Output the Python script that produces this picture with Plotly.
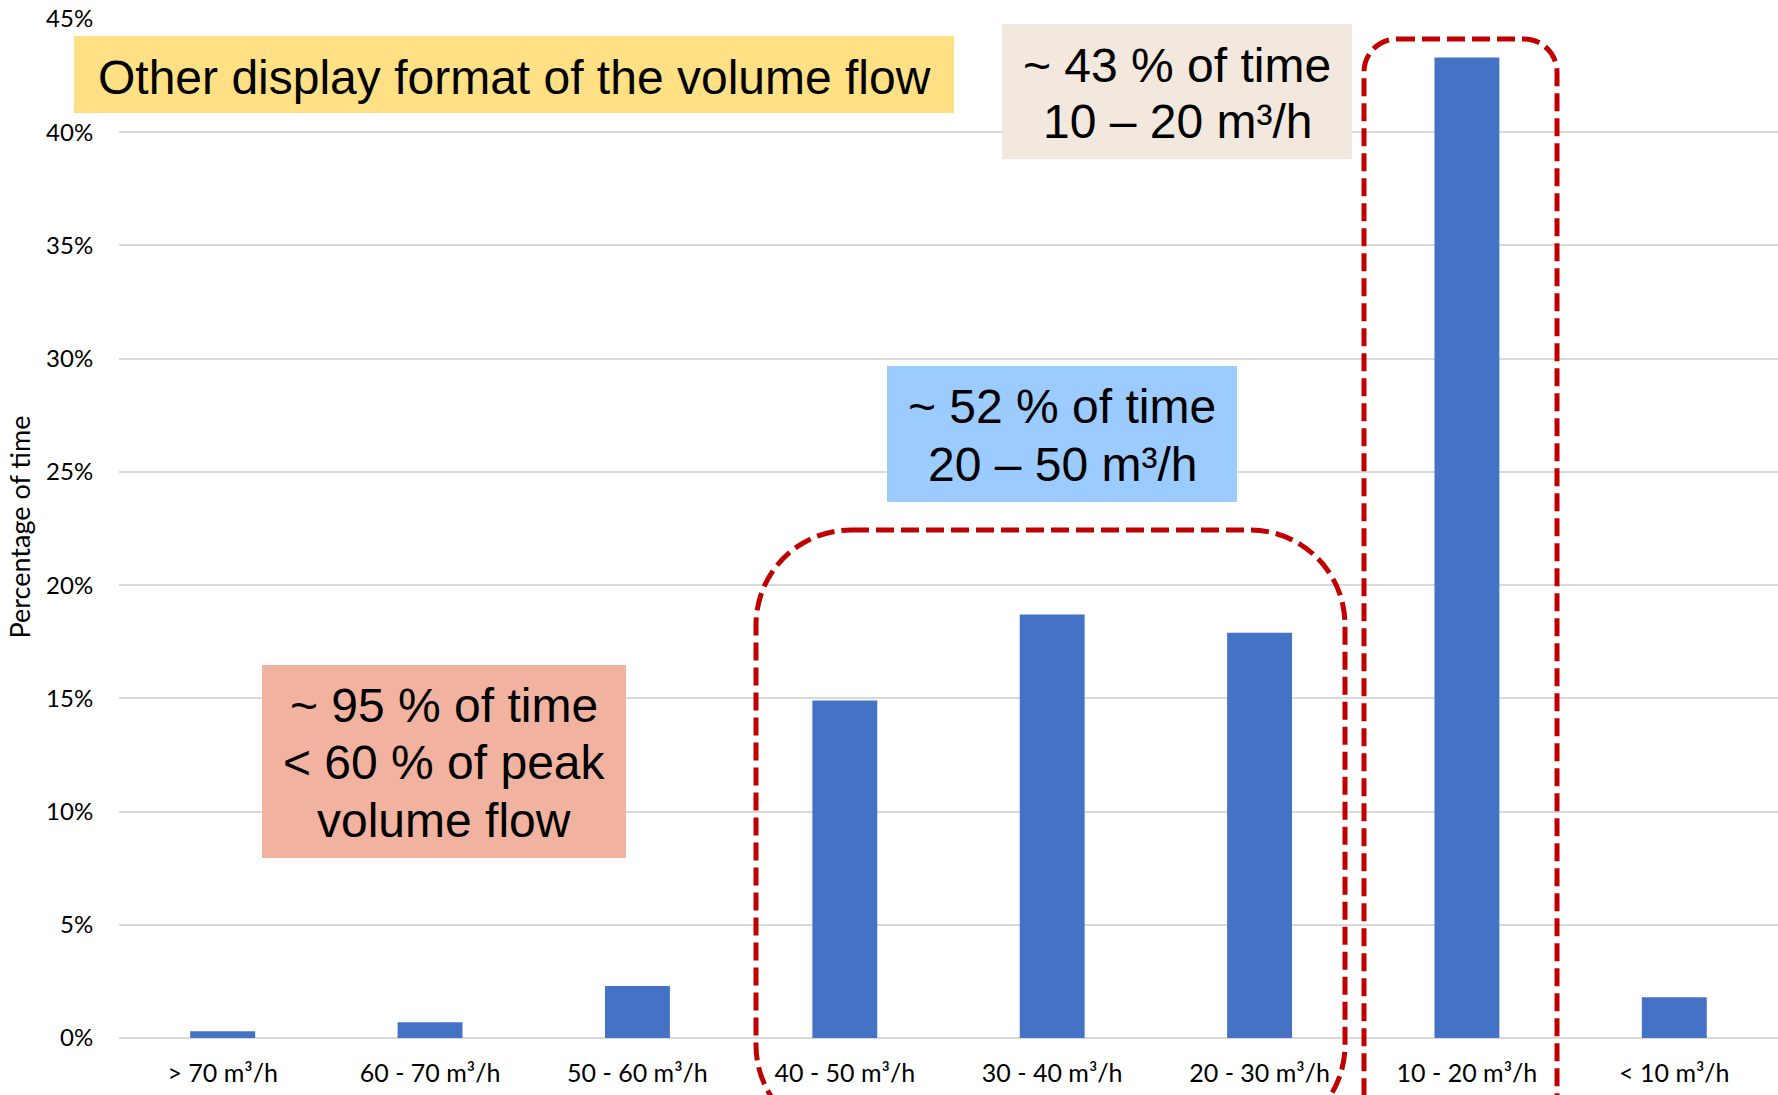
import plotly.graph_objects as go

# ---------------- data ----------------
categories = ["> 70 m³/h", "60 - 70 m³/h", "50 - 60 m³/h", "40 - 50 m³/h",
              "30 - 40 m³/h", "20 - 30 m³/h", "10 - 20 m³/h", "< 10 m³/h"]
share_pct = [0.3, 0.7, 2.3, 14.9, 18.7, 17.9, 43.3, 1.8]
y_tick_values = [0, 5, 10, 15, 20, 25, 30, 35, 40, 45]
y_tick_labels = ["0%", "5%", "10%", "15%", "20%", "25%", "30%", "35%", "40%", "45%"]
y_title = "Percentage of time"

title_lines = ["Other display format of the volume flow"]
box43_lines = ["~ 43 % of time", "10 – 20 m³/h"]
box52_lines = ["~ 52 % of time", "20 – 50 m³/h"]
box95_lines = ["~ 95 % of time", "< 60 % of peak", "volume flow"]

# ---------------- layout geometry (pixels) ----------------
W, H = 1778, 1095
L, R, T, B = 119, 0, 19, 57
PW, PH = W - L - R, H - T - B


def fx(x):
    return (x - L) / PW


def fy(y):
    return (H - B - y) / PH


boxes = [
    # (x0, y0, x1, y1, fill, lines, line centers y, text center x)
    (74, 36, 954, 113, "#FFE085", title_lines, [77], 514),
    (1002, 24, 1352, 159, "#F3E8DD", box43_lines, [65, 121.5], 1177),
    (887, 366, 1237, 502, "#9CCBFF", box52_lines, [406.5, 464.5], 1062),
    (262, 665, 626, 858, "#F2B2A0", box95_lines, [705, 762.5, 820], 444),
]


def rounded_path(x0, y0, x1, y1, r):
    k = 0.5523 * r
    pts = [
        ("M", [(x0 + r, y0)]),
        ("L", [(x1 - r, y0)]),
        ("C", [(x1 - r + k, y0), (x1, y0 + r - k), (x1, y0 + r)]),
        ("L", [(x1, y1 - r)]),
        ("C", [(x1, y1 - r + k), (x1 - r + k, y1), (x1 - r, y1)]),
        ("L", [(x0 + r, y1)]),
        ("C", [(x0 + r - k, y1), (x0, y1 - r + k), (x0, y1 - r)]),
        ("L", [(x0, y0 + r)]),
        ("C", [(x0, y0 + r - k), (x0 + r - k, y0), (x0 + r, y0)]),
    ]
    s = ""
    for cmd, plist in pts:
        s += cmd + " ".join(f"{fx(px):.5f},{fy(py):.5f}" for px, py in plist) + " "
    return s + "Z"


fig = go.Figure()
fig.add_trace(go.Bar(
    x=categories, y=share_pct,
    marker=dict(color="#4472C4", line=dict(width=0)),
    hoverinfo="skip",
))

shapes = []
annotations = []
for x0, y0, x1, y1, fill, lines, ys, cx in boxes:
    shapes.append(dict(type="rect", xref="paper", yref="paper",
                       x0=fx(x0), x1=fx(x1), y0=fy(y1), y1=fy(y0),
                       fillcolor=fill, line=dict(width=0), layer="above"))
    for txt, yc in zip(lines, ys):
        annotations.append(dict(xref="paper", yref="paper", x=fx(cx), y=fy(yc),
                                xanchor="center", yanchor="middle", text=txt,
                                showarrow=False,
                                font=dict(family="Liberation Sans, Arial, sans-serif",
                                          size=48, color="#000000")))

dash_style = dict(color="#C00000", width=5, dash="18px,7px")
shapes.append(dict(type="path", xref="paper", yref="paper",
                   path=rounded_path(756, 530, 1345, 1140, 95),
                   line=dash_style, layer="above"))
shapes.append(dict(type="path", xref="paper", yref="paper",
                   path=rounded_path(1364, 39, 1557, 1250, 33),
                   line=dash_style, layer="above"))

annotations.append(dict(xref="paper", yref="paper", x=fx(19), y=fy(527.5),
                        xanchor="center", yanchor="middle", text=y_title,
                        textangle=-90, showarrow=False,
                        font=dict(family="Lato, Carlito, sans-serif", size=27,
                                  color="#000000")))

fig.update_layout(
    width=W, height=H,
    margin=dict(l=L, r=R, t=T, b=B, pad=0),
    paper_bgcolor="white", plot_bgcolor="white",
    showlegend=False,
    bargap=0.687,
    shapes=shapes,
    annotations=annotations,
    font=dict(family="Lato, Carlito, sans-serif", color="#000000"),
    xaxis=dict(
        type="category", range=[-0.5, 7.5],
        showgrid=False, zeroline=False, showline=False,
        ticks="outside", ticklen=13, tickcolor="rgba(0,0,0,0)",
        tickfont=dict(size=25, color="#000000"),
        automargin=False, fixedrange=True,
    ),
    yaxis=dict(
        range=[0, 45],
        tickvals=y_tick_values, ticktext=y_tick_labels,
        showgrid=True, gridcolor="#D9D9D9", gridwidth=2,
        zeroline=True, zerolinecolor="#D9D9D9", zerolinewidth=2,
        showline=False,
        ticks="outside", ticklen=20, tickcolor="rgba(0,0,0,0)",
        tickfont=dict(size=24, color="#000000"),
        automargin=False, fixedrange=True,
    ),
)

fig.write_html(
    "out.html",
    config={"displayModeBar": False},
    post_script="document.body.style.margin='0';document.body.style.overflow='hidden';",
)
